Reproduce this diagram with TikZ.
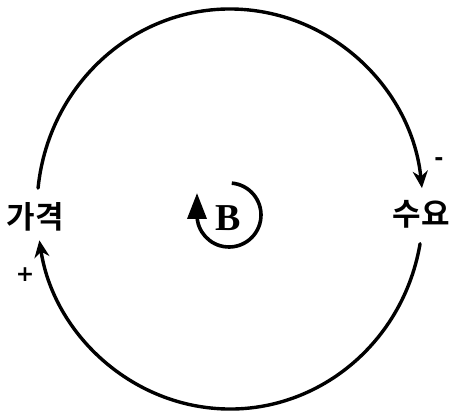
\documentclass[tikz,border=0pt]{standalone}
\usepackage{fontspec}
\newfontfamily\kr{Noto Sans CJK KR}[BoldFont={Noto Sans CJK KR Bold}]
\newfontfamily\signfont{DejaVu Sans}
\setmainfont{Liberation Serif}
\usetikzlibrary{arrows.meta}
\begin{document}
\begin{tikzpicture}[x=1pt,y=1pt,
  loopline/.style={line width=3.4pt,line cap=round},
  lbl/.style={font=\kr\bfseries\fontsize{31}{34}\selectfont,inner sep=0pt},
  sgn/.style={font=\signfont\bfseries\fontsize{22}{24}\selectfont,inner sep=0pt}]
\useasboundingbox (0,0) rectangle (452,415);
\node[lbl] (price) at (35,198) {가격};
\node[lbl] (demand) at (421,201) {수요};
\node[sgn] (minus) at (439,253) {-};
\node[sgn] (plus) at (25,140) {+};
\node[font=\bfseries\fontsize{38}{40}\selectfont,inner sep=0pt] (B) at (228,197) {B};
% main loop
\coordinate (c) at (230,206);
\draw[loopline,-{Stealth[length=17pt,width=15pt]}] (c) ++(174:193 and 200) arc[start angle=174,end angle=6,x radius=193,y radius=200];
\draw[loopline,-{Stealth[length=17pt,width=15pt]}] (c) ++(-10:193 and 200) arc[start angle=-10,end angle=-171,x radius=193,y radius=200];
% inner loop
\coordinate (ic) at (229,200);
\draw[line width=3.6pt,-{Triangle[length=26pt,width=19pt]}] (ic) ++(85:32) arc[start angle=85,end angle=-180,radius=32] -- ++(0,22);
\end{tikzpicture}
\end{document}
